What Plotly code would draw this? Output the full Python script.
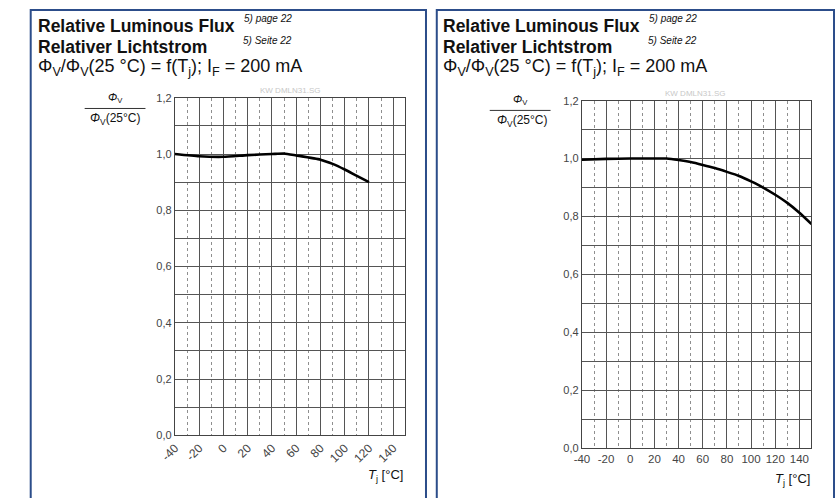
import plotly.graph_objects as go

W, H = 835, 498

# ---- data ----
temp_ticks = [-40, -20, 0, 20, 40, 60, 80, 100, 120, 140]
temp_labels = [str(t) for t in temp_ticks]
flux_ticks = [0.0, 0.2, 0.4, 0.6, 0.8, 1.0, 1.2]

left_T = [-40, -20, 0, 20, 40, 50, 60, 80, 90, 100, 110, 120]
left_phi = [1.0, 0.992, 0.99, 0.996, 1.0, 1.002, 0.995, 0.98, 0.965, 0.945, 0.922, 0.9]

right_T = [-40, -20, 0, 20, 30, 40, 50, 60, 70, 80, 90, 100, 110, 120, 130, 140, 150]
right_phi = [0.996, 0.999, 1.0, 1.0, 1.0, 0.995, 0.988, 0.978, 0.967, 0.954, 0.94,
             0.921, 0.9, 0.875, 0.847, 0.813, 0.774]

title1 = "Relative Luminous Flux"
title1_sup = "5) page 22"
title2 = "Relativer Lichtstrom"
title2_sup = "5) Seite 22"
title3 = "Φ<sub>V</sub>/Φ<sub>V</sub>(25 °C) = f(T<sub>j</sub>); I<sub>F</sub> = 200 mA"
watermark = "KW DMLN31.SG"


def px(x):
    return x / W


def py(y):
    return 1 - y / H


FONT = "Liberation Sans, Arial, sans-serif"
BORDER = "#2c4d8a"

fig = go.Figure()
fig.add_trace(go.Scatter(x=left_T, y=left_phi, mode="lines", xaxis="x", yaxis="y",
                         line=dict(color="black", width=2.6, shape="spline", smoothing=0.5),
                         showlegend=False, hoverinfo="skip"))
fig.add_trace(go.Scatter(x=right_T, y=right_phi, mode="lines", xaxis="x2", yaxis="y2",
                         line=dict(color="black", width=2.6, shape="spline", smoothing=0.5),
                         showlegend=False, hoverinfo="skip"))


def xaxis(domain, anchor, angle, fsize):
    return dict(domain=domain, anchor=anchor, range=[-40, 150], tickmode="array",
                tickvals=temp_ticks, ticktext=temp_labels, tickangle=angle,
                showgrid=True, gridcolor="#555555", gridwidth=1, zeroline=False,
                showline=True, mirror=True, linecolor="#444", linewidth=1.2,
                ticks="", tickfont=dict(family=FONT, size=fsize, color="#444"),
                minor=dict(tickvals=[-30, -10, 10, 30, 50, 70, 90, 110, 130],
                           showgrid=True, griddash="3px,3px",
                           gridcolor="#8f8f8f", gridwidth=1),
                fixedrange=True)


def yaxis(domain, anchor):
    return dict(domain=domain, anchor=anchor, range=[0, 1.2], tickmode="array",
                tickvals=flux_ticks, tickformat=".1f",
                showgrid=True, gridcolor="#555555", gridwidth=1, zeroline=False,
                showline=True, mirror=True, linecolor="#444", linewidth=1.2,
                ticks="", tickfont=dict(family=FONT, size=11, color="#444"),
                minor=dict(tickvals=[0.1, 0.3, 0.5, 0.7, 0.9, 1.1], showgrid=True,
                           gridcolor="#555555", gridwidth=1),
                fixedrange=True)


fig.update_layout(
    width=W, height=H, margin=dict(l=0, r=0, t=0, b=0),
    paper_bgcolor="white", plot_bgcolor="white", separators=",.",
    font=dict(family=FONT, color="#111"),
    xaxis=xaxis([px(162), px(397)], "y", -45, 12),
    yaxis=yaxis([py(440), py(94)], "x"),
    xaxis2=xaxis([px(577), px(811)], "y2", 0, 11.5),
    yaxis2=yaxis([py(453), py(97)], "x2"),
)

shapes = []
for x0, x1 in [(15, 418), (429, 834)]:
    shapes.append(dict(type="rect", xref="paper", yref="paper", x0=px(x0), x1=px(x1),
                       y0=py(510), y1=py(4), line=dict(color=BORDER, width=2)))
# fraction bars of the y-axis labels
for x0, x1, y in [(70, 132, 105), (483, 545, 107)]:
    shapes.append(dict(type="line", xref="paper", yref="paper", x0=px(x0), x1=px(x1),
                       y0=py(y), y1=py(y), line=dict(color="#333", width=1)))
fig.update_layout(shapes=shapes)

ann = []


def text(x, y, s, size, xanchor="left", yanchor="middle", color="#111"):
    ann.append(dict(x=px(x), y=py(y), xref="paper", yref="paper", text=s, showarrow=False,
                    xanchor=xanchor, yanchor=yanchor,
                    font=dict(family=FONT, size=size, color=color)))


for ox in [0, 413]:
    text(20 + ox, 20, "<b>" + title1 + "</b>", 17.5)
    text(20 + ox, 42, "<b>" + title2 + "</b>", 17.5)
    text(20 + ox, 63, title3, 18)

text(230, 13, "<i>" + title1_sup + "</i>", 10)
text(229, 35, "<i>" + title2_sup + "</i>", 10)
text(643, 13, "<i>" + title1_sup + "</i>", 10)
text(642, 35, "<i>" + title2_sup + "</i>", 10)

# y-axis fraction labels
text(101, 94, "<i>Φ</i><sub>V</sub>", 11, xanchor="center")
text(101, 116, "<i>Φ</i><sub>V</sub>(25°C)", 12, xanchor="center")
text(514, 96, "<i>Φ</i><sub>V</sub>", 11, xanchor="center")
text(516, 118, "<i>Φ</i><sub>V</sub>(25°C)", 12, xanchor="center")

# watermarks
text(279, 87, watermark, 8, xanchor="center", color="#c8c8c8")
text(692, 90, watermark, 8, xanchor="center", color="#c8c8c8")

# x-axis titles
text(397, 481, "<i>T</i><sub>j</sub> [°C]", 13, xanchor="right")
text(812, 485, "<i>T</i><sub>j</sub> [°C]", 13, xanchor="right")

fig.update_layout(annotations=ann)

fig.write_html("out.html", config={"displayModeBar": False},
               post_script="document.body.style.margin='0';document.body.style.overflow='hidden';")
